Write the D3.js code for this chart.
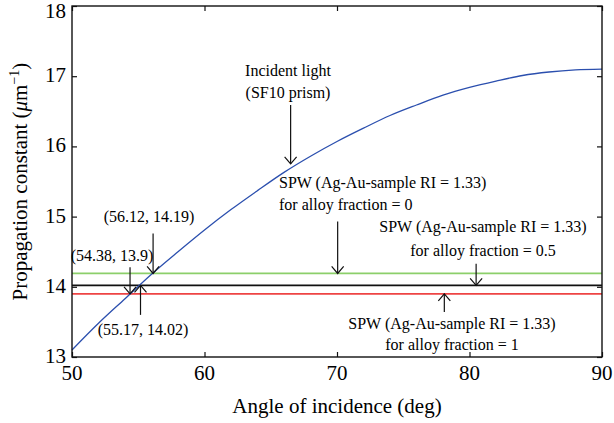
<!DOCTYPE html>
<html>
<head>
<meta charset="utf-8">
<script src="https://cdn.jsdelivr.net/npm/d3@7"></script>
<style>
  body { margin: 0; background: #fff; }
</style>
</head>
<body>
<div id="chart"></div>
<script>
// set the dimensions and margins of the graph
var width = 614;
var height = 423;
var margin = {left: 72, right: 12, top: 6, bottom: 66};
var serif = "'Liberation Serif', 'Times New Roman', 'DejaVu Serif', serif";

// incident light curve (angle in deg, propagation constant)
var angles = [50, 52, 54, 56, 58, 60, 62, 64, 66, 68, 70, 72, 74, 76, 78, 80, 82, 84, 86, 88, 90];
var incident = [13.10, 13.48, 13.83, 14.18, 14.50, 14.81, 15.10, 15.37, 15.63, 15.86, 16.07,
                16.26, 16.44, 16.59, 16.73, 16.84, 16.93, 17.01, 17.06, 17.09, 17.10];

// SPW levels for the three alloy fractions
var spwNames = ["alloy0", "alloy05", "alloy1"];
var spwValues = [14.19, 14.02, 13.9];
var spwColors = ["#8ccf6a", "#111111", "#ee4444"];

var xTicks = [50, 60, 70, 80, 90];
var yTicks = [13, 14, 15, 16, 17, 18];

var svg = d3.select("#chart")
  .append("svg")
  .attr("width", width)
  .attr("height", height)
  .attr("font-family", serif)
  .style("font-family", serif);

var x = d3.scaleLinear().domain([50, 90]).range([margin.left, width - margin.right]);
var y = d3.scaleLinear().domain([13, 18]).range([height - margin.bottom, margin.top]);

var x0 = x(50), x1 = x(90), y0 = y(13), y1 = y(18);

// horizontal SPW lines
svg.selectAll("line.spw")
  .data(spwValues)
  .enter()
  .append("line")
  .attr("class", "spw")
  .attr("x1", x0).attr("x2", x1)
  .attr("y1", function(d) { return y(d); })
  .attr("y2", function(d) { return y(d); })
  .attr("stroke", function(d, i) { return spwColors[i]; })
  .attr("stroke-width", 1.7);

// incident light curve
var line = d3.line()
  .x(function(d, i) { return x(angles[i]); })
  .y(function(d) { return y(d); })
  .curve(d3.curveMonotoneX);

svg.append("path")
  .datum(incident)
  .attr("d", line)
  .attr("fill", "none")
  .attr("stroke", "#2b4fae")
  .attr("stroke-width", 1.3);

// axes: ticks inside on all four sides (matlab style)
svg.append("g")
  .attr("transform", "translate(0," + y0 + ")")
  .call(d3.axisTop(x).tickValues(xTicks).tickSize(5).tickFormat(""))
  .call(function(g) { g.select(".domain").remove(); });
svg.append("g")
  .attr("transform", "translate(0," + y1 + ")")
  .call(d3.axisBottom(x).tickValues(xTicks).tickSize(5).tickFormat(""))
  .call(function(g) { g.select(".domain").remove(); });
svg.append("g")
  .attr("transform", "translate(" + x0 + ",0)")
  .call(d3.axisRight(y).tickValues(yTicks).tickSize(5).tickFormat(""))
  .call(function(g) { g.select(".domain").remove(); });
svg.append("g")
  .attr("transform", "translate(" + x1 + ",0)")
  .call(d3.axisLeft(y).tickValues(yTicks).tickSize(5).tickFormat(""))
  .call(function(g) { g.select(".domain").remove(); });

svg.selectAll(".tick line").attr("stroke", "#111").attr("stroke-width", 1.2);

svg.append("rect")
  .attr("x", x0).attr("y", y1)
  .attr("width", x1 - x0).attr("height", y0 - y1)
  .attr("fill", "none")
  .attr("stroke", "#111")
  .attr("stroke-width", 1.4);

// tick labels
svg.selectAll("text.xt")
  .data(xTicks)
  .enter()
  .append("text")
  .attr("class", "xt")
  .attr("x", function(d) { return x(d); })
  .attr("y", y0 + 23)
  .attr("text-anchor", "middle")
  .style("font-size", "21px")
  .text(function(d) { return d; });

svg.selectAll("text.yt")
  .data(yTicks)
  .enter()
  .append("text")
  .attr("class", "yt")
  .attr("x", x0 - 6)
  .attr("y", function(d) { return Math.max(y(d) + 6, 18); })
  .attr("text-anchor", "end")
  .style("font-size", "21px")
  .text(function(d) { return d; });

// axis titles
svg.append("text")
  .attr("x", (x0 + x1) / 2)
  .attr("y", 413)
  .attr("text-anchor", "middle")
  .style("font-size", "21px")
  .text("Angle of incidence (deg)");

var yl = svg.append("text")
  .attr("transform", "translate(27," + ((y0 + y1) / 2) + ")rotate(-90)")
  .attr("text-anchor", "middle")
  .style("font-size", "21px");
yl.append("tspan").text("Propagation constant (");
yl.append("tspan").style("font-style", "italic").text("\u03bc");
yl.append("tspan").text("m");
yl.append("tspan").attr("dy", -8).style("font-size", "14px").text("\u22121");
yl.append("tspan").attr("dy", 8).text(")");

// annotations: arrow at angle ax, from value "from" pointing to value "to"
var notes = [
  {lines: ["Incident light", "(SF10 prism)"], tx: 288, ty: [76, 98], ax: 66.5, from: 16.59, to: 15.75},
  {lines: ["SPW (Ag-Au-sample RI = 1.33)", "for alloy fraction = 0"], tx: 279, ty: [188, 210], anchor: "start", ax: 70.05, from: 14.93, to: 14.19},
  {lines: ["SPW (Ag-Au-sample RI = 1.33)", "for alloy fraction = 0.5"], tx: 483, ty: [232, 256], ax: 80.5, from: 14.33, to: 14.02},
  {lines: ["SPW (Ag-Au-sample RI = 1.33)", "for alloy fraction = 1"], tx: 452, ty: [329, 350], ax: 78.1, from: 13.64, to: 13.9},
  {lines: ["(56.12, 14.19)"], tx: 149, ty: [222], ax: 56.12, from: 14.76, to: 14.19},
  {lines: ["(54.38, 13.9)"], tx: 112, ty: [261], ax: 54.38, from: 14.28, to: 13.9},
  {lines: ["(55.17, 14.02)"], tx: 143, ty: [335], ax: 55.17, from: 13.6, to: 14.02}
];

notes.forEach(function(n) {
  n.lines.forEach(function(t, i) {
    svg.append("text")
      .attr("x", n.tx)
      .attr("y", n.ty[i])
      .attr("text-anchor", n.anchor || "middle")
      .style("font-size", "16px")
      .text(t);
  });
  var ax = x(n.ax), ya = y(n.from), yb = y(n.to);
  var dir = yb > ya ? 1 : -1;
  svg.append("line")
    .attr("x1", ax).attr("x2", ax)
    .attr("y1", ya).attr("y2", yb)
    .attr("stroke", "#111").attr("stroke-width", 1.2);
  svg.append("path")
    .attr("d", "M" + (ax - 6) + "," + (yb - dir * 7) + "L" + ax + "," + yb + "L" + (ax + 6) + "," + (yb - dir * 7))
    .attr("fill", "none")
    .attr("stroke", "#111")
    .attr("stroke-width", 1.2);
});
</script>
</body>
</html>
